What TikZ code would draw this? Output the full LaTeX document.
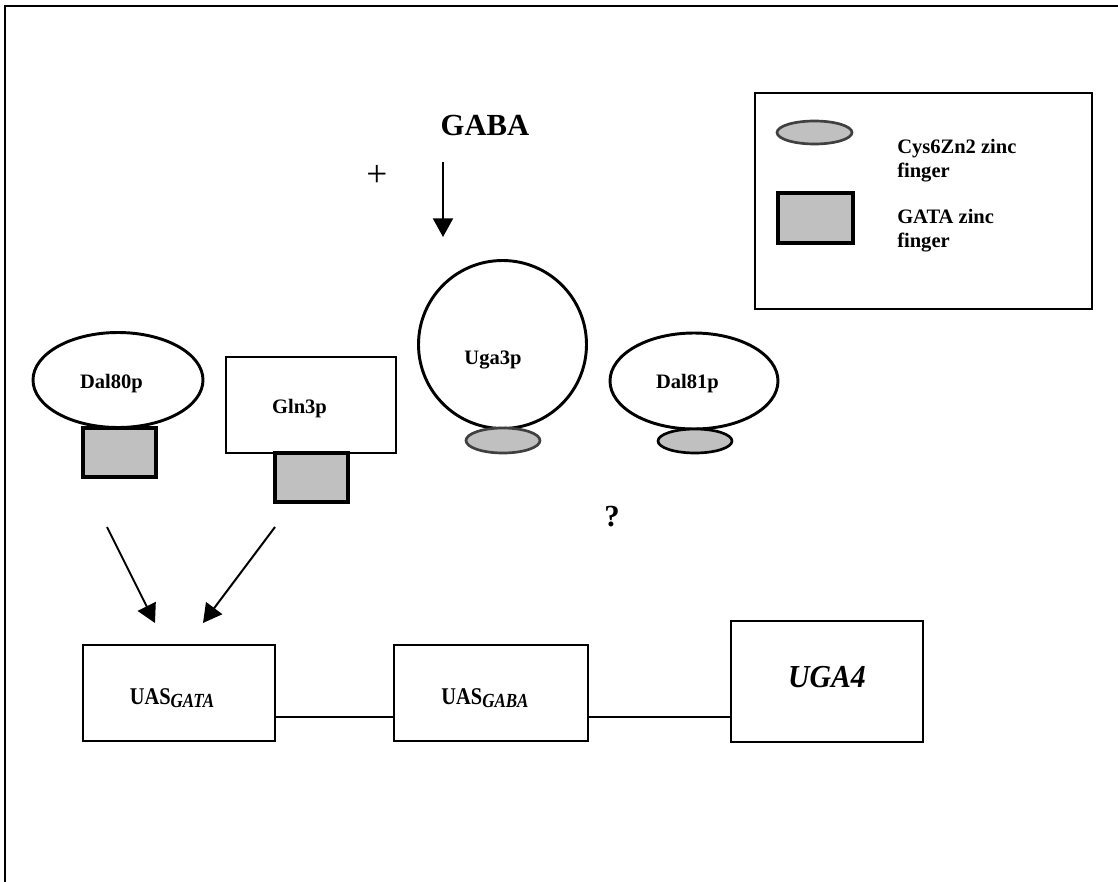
\documentclass[tikz,border=0pt]{standalone}
\usepackage{fontspec}
\usepackage{graphicx}
\setmainfont{Liberation Serif}
\usetikzlibrary{shapes.geometric,arrows.meta}
\definecolor{zfgrey}{HTML}{C0C0C0}
\definecolor{zfedge}{HTML}{404040}
\tikzset{
  protein/.style={draw, line width=2.2pt, inner sep=0pt, fill=white},
  ovalprot/.style={protein, ellipse},
  boxprot/.style={protein, rectangle},
  gatafinger/.style={draw, line width=2.4pt, fill=zfgrey, rectangle, inner sep=0pt,
    minimum width=73*0.75pt, minimum height=49*0.75pt},
  cysfinger/.style={draw=zfedge, line width=2pt, fill=zfgrey, ellipse, inner sep=0pt,
    minimum width=74*0.75pt, minimum height=24*0.75pt},
  element/.style={draw, line width=1.5pt, rectangle, inner sep=0pt},
  lbl/.style={inner sep=0pt, anchor=base, font=\fontsize{15.4}{18}\selectfont\bfseries},
  biglbl/.style={inner sep=0pt, anchor=base, font=\fontsize{23}{27}\selectfont\bfseries},
  legtext/.style={inner sep=0pt, anchor=base west, font=\fontsize{15.4}{18}\selectfont\bfseries},
  act/.style={line width=1.5pt, -{Triangle[width=15pt,length=14pt]}},
  link/.style={line width=1.5pt}
}
\newcommand{\uaslabel}[1]{\scalebox{0.85}[1]{\fontsize{18}{21}\selectfont\bfseries UAS\raisebox{-2.5pt}{\fontsize{15}{18}\selectfont\bfseries\itshape #1}}}
\begin{document}
\begin{tikzpicture}[x=0.75pt,y=-0.75pt]
\useasboundingbox (0,0) rectangle (1118,882);
\fill[white] (0,0) rectangle (1118,882);

% outer frame (top and left edges)
\draw[line width=1.9pt] (5,882) -- (5,6) -- (1118,6);

% legend
\node[draw, line width=1.1pt, rectangle, inner sep=0pt,
      minimum width=337*0.75pt, minimum height=216*0.75pt] (legend) at (923.5,201) {};
\node[cysfinger, minimum width=75*0.75pt, minimum height=23*0.75pt] (legcys) at (814.5,132.5) {};
\node[gatafinger, minimum width=75*0.75pt, minimum height=50*0.75pt] (leggata) at (815.5,218) {};
\node[legtext] (legcysa) at (897,153) {Cys6Zn2 zinc};
\node[legtext] (legcysb) at (897,177) {finger};
\node[legtext] (leggataa) at (897,223) {GATA zinc};
\node[legtext] (leggatab) at (897,247) {finger};

% inducer
\node[biglbl] (gaba) at (485,135) {GABA};
\node[inner sep=0pt, font=\fontsize{28}{32}\selectfont] (plus) at (377,176) {+};
\coordinate (gabafrom) at (443,162);
\coordinate (gabato) at (443,237);
\draw[act] (gabafrom) -- (gabato);

% regulators
\node[ovalprot, minimum width=170*0.75pt, minimum height=95*0.75pt] (dal80) at (118,380) {};
\node[gatafinger] (dal80zf) at (119.5,452.5) {};
\node[lbl] (dal80t) at (111.5,388) {Dal80p};

\node[boxprot, minimum width=170*0.75pt, minimum height=96*0.75pt] (gln3) at (311,405) {};
\node[gatafinger] (gln3zf) at (311.5,477.5) {};
\node[lbl] (gln3t) at (299.5,413) {Gln3p};

\node[protein, circle, minimum size=168*0.75pt] (uga3) at (502.5,344.5) {};
\node[cysfinger, minimum height=25*0.75pt] (uga3zf) at (503,440.5) {};
\node[lbl] (uga3t) at (493,364) {Uga3p};

\node[ovalprot, minimum width=168*0.75pt, minimum height=96*0.75pt] (dal81) at (694,381) {};
\node[cysfinger, draw=black] (dal81zf) at (695,441) {};
\node[lbl] (dal81t) at (687.5,388) {Dal81p};

\node[biglbl] (unknown) at (612,526) {?};

% activation of the GATA element
\coordinate (dal80from) at (107,527);
\coordinate (dal80to) at (155,623);
\coordinate (gln3from) at (275,527);
\coordinate (gln3to) at (203,623);
\draw[act] (dal80from) -- (dal80to);
\draw[act] (gln3from) -- (gln3to);

% promoter of UGA4
\node[element, minimum width=192*0.75pt, minimum height=96*0.75pt] (uasgata) at (179,693) {};
\node[element, minimum width=194*0.75pt, minimum height=96*0.75pt] (uasgaba) at (491,693) {};
\node[element, minimum width=192*0.75pt, minimum height=121*0.75pt] (uga4) at (827,681.5) {};
\node[inner sep=0pt, anchor=base] (uasgatat) at (172,704) {\uaslabel{GATA}};
\node[inner sep=0pt, anchor=base] (uasgabat) at (485,704) {\uaslabel{GABA}};
\node[inner sep=0pt, anchor=base] (uga4t) at (827,687)
  {\scalebox{0.93}[1]{\fontsize{24}{28}\selectfont\bfseries\itshape UGA4}};
\draw[link] (uasgata.east |- 0,717) -- (uasgaba.west |- 0,717);
\draw[link] (uasgaba.east |- 0,717) -- (uga4.west |- 0,717);
\end{tikzpicture}
\end{document}
